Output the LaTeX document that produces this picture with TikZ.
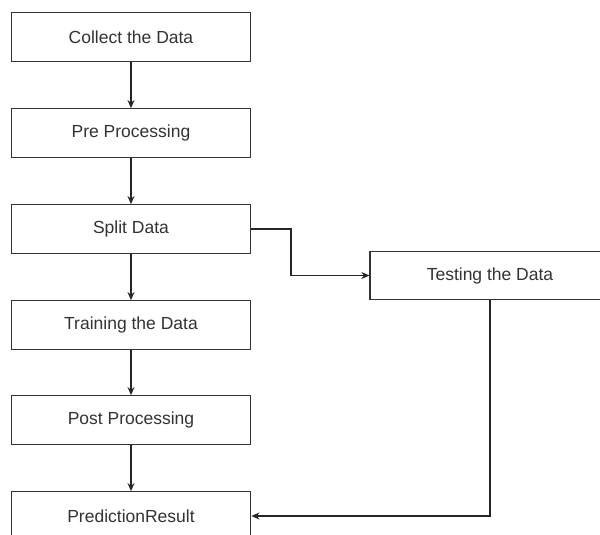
\documentclass[tikz,border=0pt]{standalone}
\usepackage{fontspec}
\setmainfont{Liberation Sans}
\usetikzlibrary{arrows.meta}
\usetikzlibrary{positioning}

\begin{document}
\begin{tikzpicture}[
    x=1pt, y=-1pt,
    stagebox/.style={draw=black!80, line width=1.3pt, fill=white,
      minimum width=239.5pt, minimum height=48.5pt, inner sep=0pt,
      text=black!80, font=\fontsize{17.5}{21}\selectfont},
    flow/.style={draw=black!85, line width=1.3pt,
      -{Stealth[length=8pt,width=7pt]}}]

    \useasboundingbox (0, 0) rectangle (600, 535);
    \clip (0, 0) rectangle (600, 535);

    % main column
    \node [stagebox] (collect) at (131, 37) {Collect the Data};
    \node [stagebox] (preproc) at (131, 133) {Pre Processing};
    \node [stagebox] (split) at (131, 229) {Split Data};
    \node [stagebox] (train) at (131, 325) {Training the Data};
    \node [stagebox] (postproc) at (131, 420) {Post Processing};
    \node [stagebox] (predict) at (131, 516) {PredictionResult};

    % side branch
    \node [stagebox, minimum width=240pt] (test) at (490, 275.5) {Testing the Data};

    \draw [flow] (collect) -- (preproc);
    \draw [flow] (preproc) -- (split);
    \draw [flow] (split) -- (train);
    \draw [flow] (train) -- (postproc);
    \draw [flow] (postproc) -- (predict);

    \draw [flow] (split.east) -- ++(39.5, 0) |- (test.west);
    \draw [flow] (test.south) |- (predict.east);

  \end{tikzpicture}
\end{document}
